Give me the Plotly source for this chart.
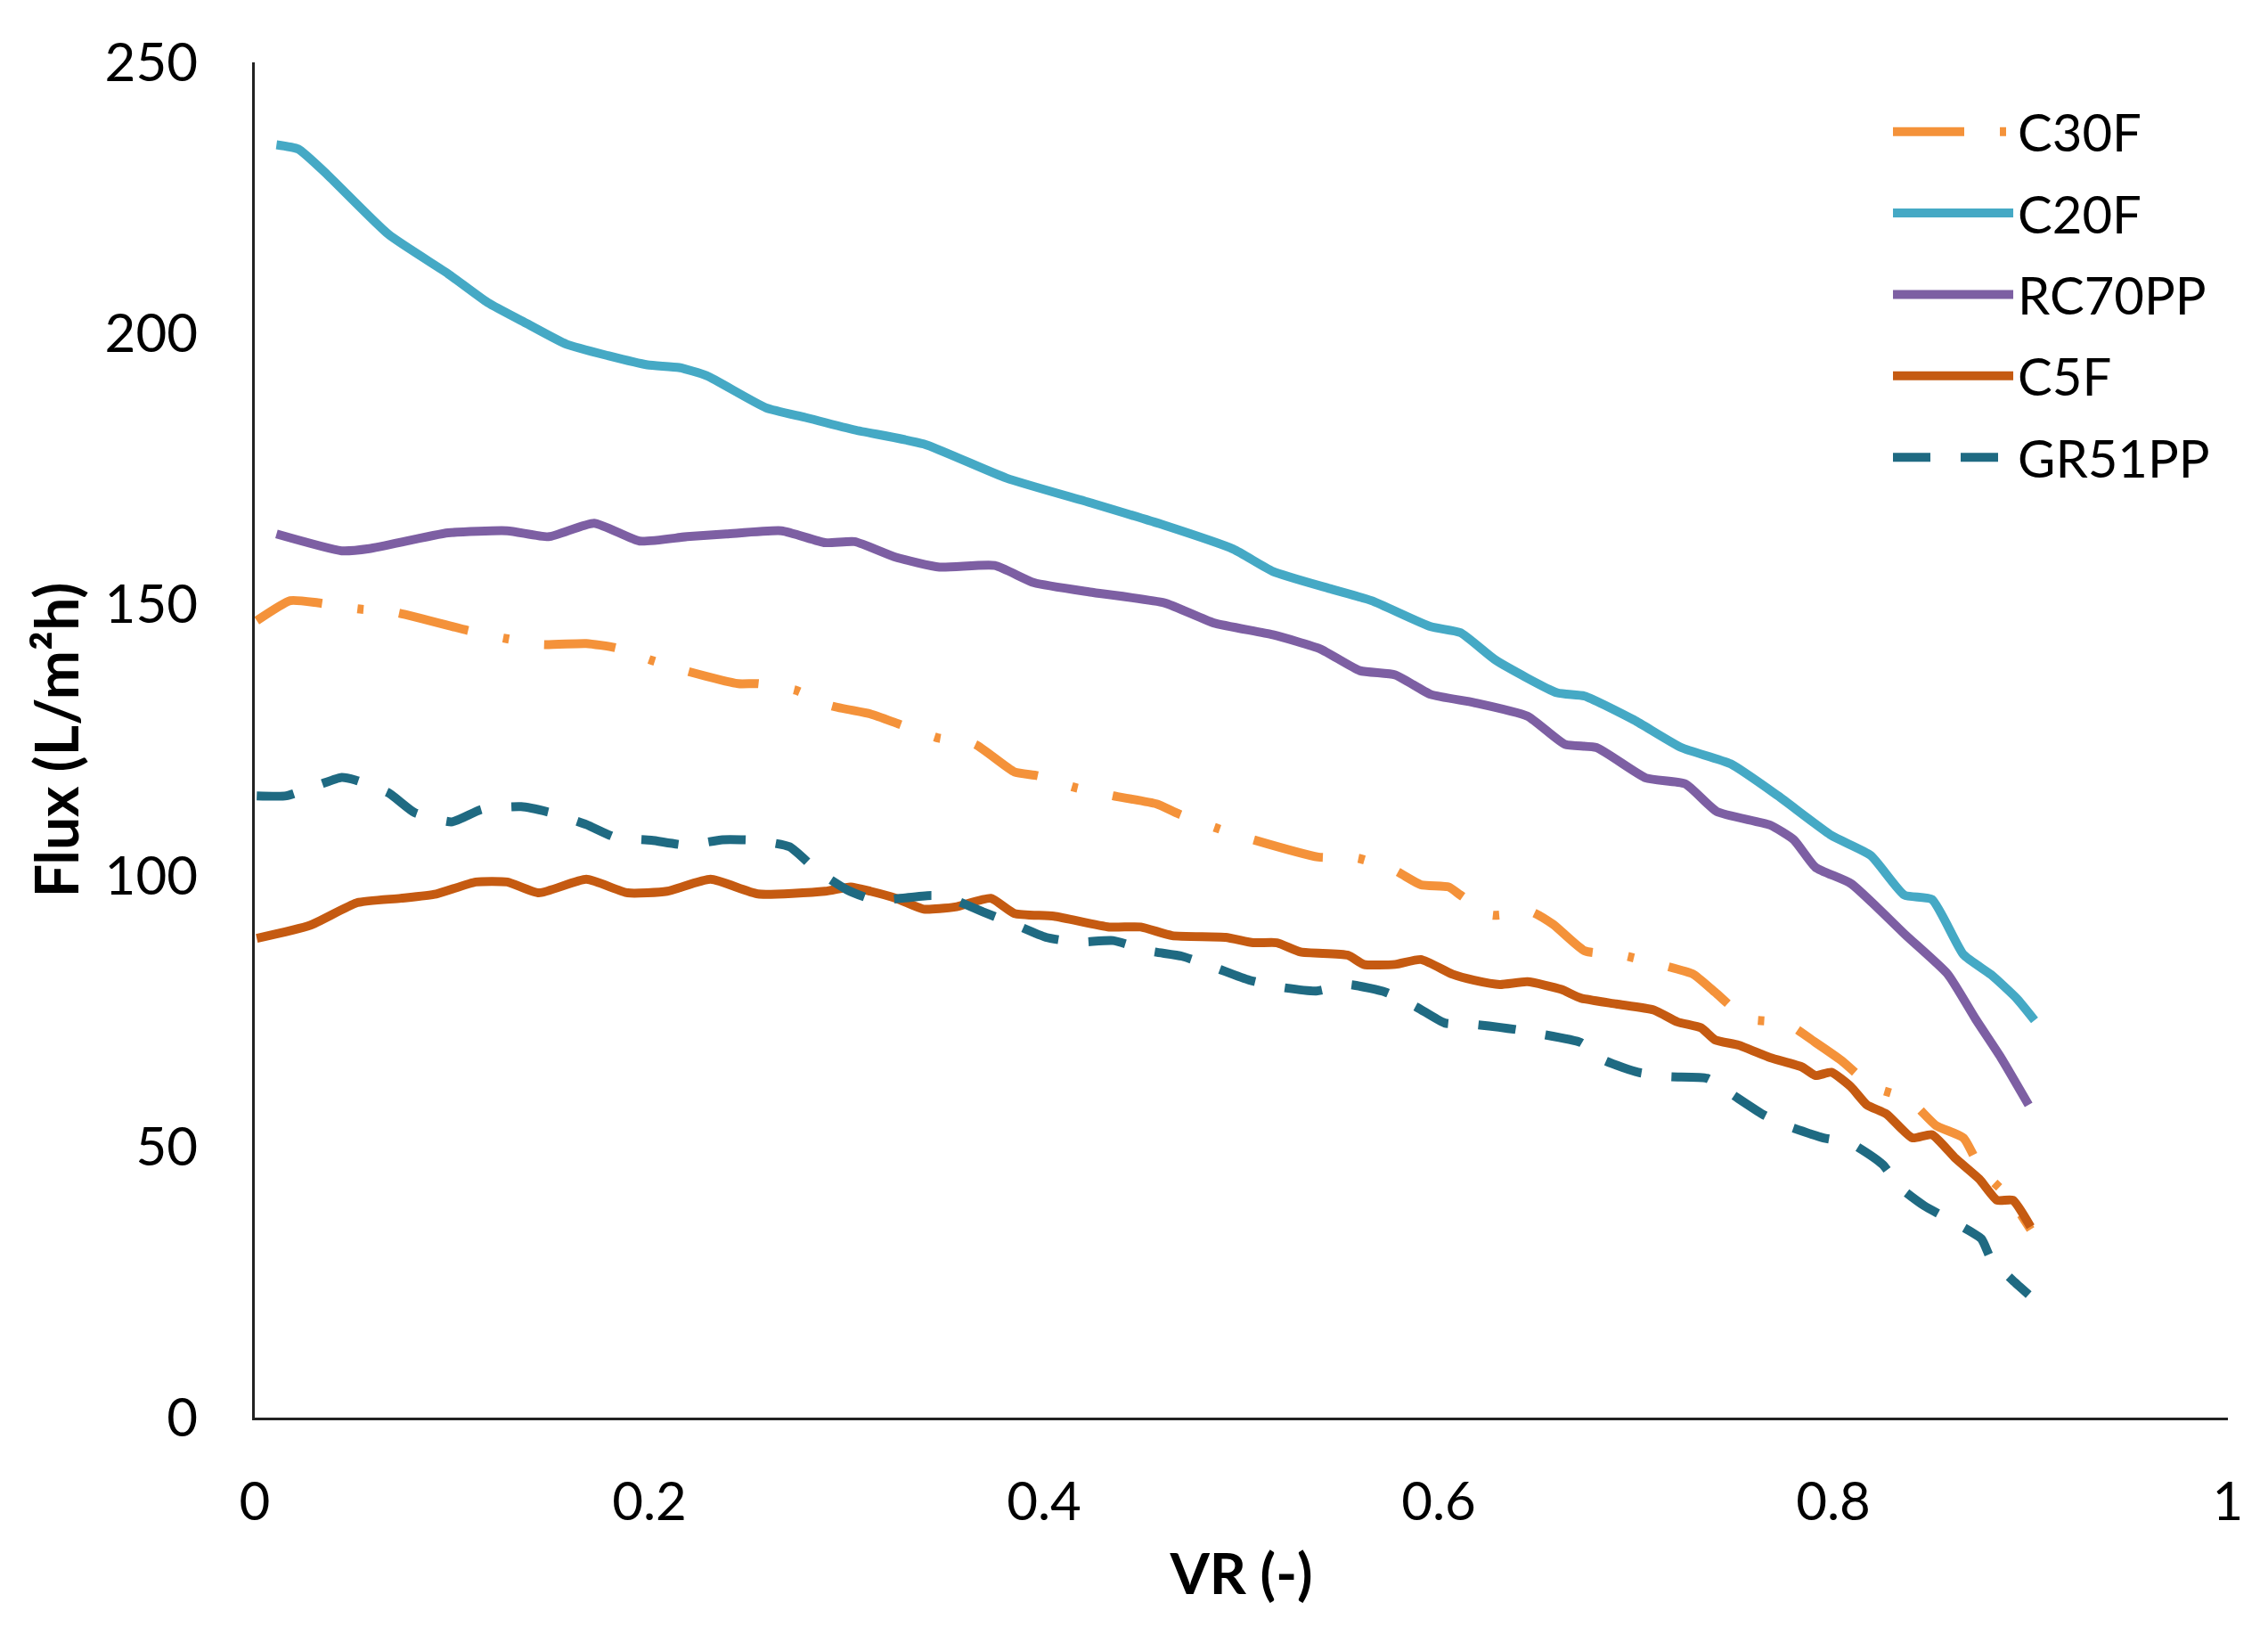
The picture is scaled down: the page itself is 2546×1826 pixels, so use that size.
import plotly.graph_objects as go

# ---------------- data ----------------
c30f_vr = [0.001, 0.018, 0.032, 0.052, 0.072, 0.108, 0.126, 0.146, 0.168, 0.183, 0.201, 0.219, 0.245, 0.255,
           0.274, 0.292, 0.312, 0.326, 0.346, 0.365, 0.385, 0.397, 0.415, 0.435, 0.457, 0.468, 0.487, 0.506,
           0.539, 0.559, 0.578, 0.591, 0.605, 0.611, 0.627, 0.647, 0.658, 0.674, 0.693, 0.713, 0.729, 0.740,
           0.756, 0.776, 0.791, 0.804, 0.820, 0.838, 0.852, 0.866, 0.875, 0.889, 0.900]
c30f_flux = [147.0, 150.7, 150.3, 149.2, 148.5, 145.2, 143.8, 142.6, 142.8, 142.0, 139.7, 137.7, 135.4, 135.4,
             134.2, 131.3, 129.8, 128.0, 125.4, 124.2, 119.1, 118.4, 116.3, 114.7, 113.2, 111.4, 108.8, 106.6,
             103.4, 103.2, 100.9, 98.3, 97.9, 96.4, 92.7, 93.3, 91.0, 86.1, 85.3, 83.5, 81.8, 78.5,
             73.6, 72.8, 69.2, 65.9, 61.0, 58.8, 53.9, 51.6, 45.7, 40.7, 34.7]

c20f_vr = [0.011, 0.022, 0.037, 0.068, 0.098, 0.118, 0.138, 0.158, 0.179, 0.199, 0.215, 0.229, 0.259, 0.279,
           0.304, 0.339, 0.381, 0.425, 0.461, 0.496, 0.516, 0.546, 0.566, 0.596, 0.611, 0.629, 0.660, 0.674,
           0.699, 0.723, 0.748, 0.772, 0.799, 0.819, 0.836, 0.850, 0.866, 0.880, 0.893, 0.902]
c20f_flux = [234.8, 234.0, 229.2, 218.2, 211.0, 205.7, 201.8, 198.0, 195.9, 194.2, 193.7, 192.2, 186.3, 184.5,
             182.2, 179.6, 173.3, 168.6, 164.6, 160.2, 156.1, 152.8, 150.7, 145.9, 144.8, 139.7, 133.7, 133.1,
             128.7, 123.6, 120.6, 114.7, 107.4, 103.7, 96.4, 95.6, 85.4, 81.7, 77.3, 73.3]

rc70pp_vr = [0.011, 0.044, 0.058, 0.098, 0.128, 0.149, 0.172, 0.195, 0.219, 0.239, 0.267, 0.289, 0.304, 0.325,
             0.347, 0.375, 0.395, 0.425, 0.461, 0.486, 0.516, 0.540, 0.560, 0.578, 0.596, 0.618, 0.645, 0.664,
             0.680, 0.705, 0.725, 0.741, 0.768, 0.780, 0.791, 0.809, 0.837, 0.858, 0.872, 0.885, 0.899]
rc70pp_flux = [163.0, 159.9, 160.3, 163.2, 163.6, 162.5, 165.0, 161.7, 162.5, 163.0, 163.6, 161.4, 161.6, 158.7,
               156.9, 157.2, 154.0, 152.2, 150.3, 146.6, 144.4, 141.8, 137.8, 137.0, 133.4, 131.9, 129.4, 124.2,
               123.6, 118.0, 116.9, 111.8, 109.3, 106.6, 101.5, 98.5, 88.9, 81.8, 73.6, 66.4, 57.7]

c5f_vr = [0.001, 0.028, 0.052, 0.074, 0.092, 0.112, 0.128, 0.144, 0.168, 0.189, 0.209, 0.231, 0.255, 0.289,
          0.302, 0.312, 0.325, 0.339, 0.355, 0.373, 0.385, 0.405, 0.433, 0.449, 0.465, 0.492, 0.506, 0.518,
          0.530, 0.554, 0.562, 0.578, 0.591, 0.607, 0.618, 0.631, 0.645, 0.662, 0.672, 0.690, 0.709, 0.721,
          0.733, 0.740, 0.752, 0.768, 0.784, 0.791, 0.799, 0.809, 0.817, 0.827, 0.840, 0.850, 0.862, 0.874,
          0.883, 0.891, 0.900]
c5f_flux = [88.4, 90.8, 95.0, 95.8, 96.6, 98.8, 98.8, 96.8, 99.3, 96.8, 97.1, 99.3, 96.6, 97.1,
            97.9, 97.1, 95.8, 93.8, 94.2, 95.8, 93.0, 92.5, 90.5, 90.5, 88.9, 88.6, 87.6, 87.6,
            85.9, 85.3, 83.6, 83.6, 84.5, 81.8, 80.7, 79.9, 80.4, 79.0, 77.4, 76.3, 75.2, 73.0,
            71.9, 69.7, 68.7, 66.4, 64.7, 63.1, 63.7, 61.0, 57.7, 56.0, 51.6, 52.2, 47.8, 44.0,
            40.1, 40.1, 35.2]

gr51pp_vr = [0.001, 0.016, 0.033, 0.044, 0.051, 0.068, 0.081, 0.100, 0.115, 0.135, 0.150, 0.168, 0.183, 0.201,
             0.219, 0.237, 0.253, 0.271, 0.285, 0.300, 0.314, 0.343, 0.351, 0.369, 0.385, 0.401, 0.417, 0.435,
             0.453, 0.470, 0.486, 0.504, 0.520, 0.538, 0.554, 0.573, 0.589, 0.603, 0.619, 0.639, 0.651, 0.672,
             0.684, 0.701, 0.717, 0.736, 0.748, 0.764, 0.776, 0.795, 0.809, 0.825, 0.834, 0.846, 0.860, 0.875,
             0.880, 0.891, 0.899]
gr51pp_flux = [114.7, 114.7, 116.8, 118.1, 117.6, 115.2, 111.6, 109.9, 112.2, 112.7, 111.6, 109.4, 107.0, 106.5,
               105.6, 106.6, 106.5, 105.3, 100.9, 97.4, 95.5, 96.3, 96.0, 93.3, 91.0, 88.6, 87.7, 88.0,
               86.1, 85.1, 83.1, 80.7, 79.4, 78.7, 79.9, 78.5, 75.7, 72.8, 72.5, 71.6, 70.8, 69.2,
               65.9, 63.7, 62.9, 62.6, 59.8, 56.0, 53.9, 51.6, 50.6, 46.7, 42.4, 39.1, 36.3, 33.0,
               29.2, 25.3, 22.7]

x_ticks = [0, 0.2, 0.4, 0.6, 0.8, 1]
x_tick_labels = ["0", "0.2", "0.4", "0.6", "0.8", "1"]
y_ticks = [0, 50, 100, 150, 200, 250]

# ---------------- figure ----------------
FONT = "Lato"
series = [
    ("C30F", c30f_vr, c30f_flux, "#F4923A", "80px,40px,7px,40px"),
    ("C20F", c20f_vr, c20f_flux, "#45A9C5", "solid"),
    ("RC70PP", rc70pp_vr, rc70pp_flux, "#7D5FA3", "solid"),
    ("C5F", c5f_vr, c5f_flux, "#C55A11", "solid"),
    ("GR51PP", gr51pp_vr, gr51pp_flux, "#1F6A82", "42px,34px"),
]

fig = go.Figure()
for name, xs, ys, color, dash in series:
    fig.add_trace(go.Scatter(
        x=xs, y=ys, name=name, mode="lines", legendgroup=name,
        line=dict(color=color, width=10, dash=dash, shape="spline", smoothing=0.5),
    ))

fig.update_layout(
    width=2546, height=1826,
    paper_bgcolor="white", plot_bgcolor="white",
    margin=dict(l=278, r=53, t=62, b=243),
    font=dict(family=FONT, size=60, color="black"),
    showlegend=True,
    legend=dict(
        x=0.828, y=0.978, xanchor="left", yanchor="top",
        font=dict(family=FONT, size=58, color="black"),
        itemwidth=135, tracegroupgap=13, bgcolor="rgba(0,0,0,0)",
    ),
)
fig.update_xaxes(
    range=[0, 1], tickvals=x_ticks, ticktext=x_tick_labels,
    showgrid=False, zeroline=False, showline=True, linecolor="#222", linewidth=3,
    ticks="", tickfont=dict(family=FONT, size=60), ticklabelstandoff=40,
    title=dict(text="<b>VR (-)</b>", font=dict(family=FONT, size=64), standoff=27),
)
fig.update_yaxes(
    range=[0, 250], tickvals=y_ticks,
    showgrid=False, zeroline=False, showline=True, linecolor="#222", linewidth=3,
    ticks="", tickfont=dict(family=FONT, size=60), ticklabelstandoff=49,
    title=dict(text="<b>Flux (L/m²h)</b>", font=dict(family=FONT, size=66), standoff=8),
)

fig.write_html("out.html")
